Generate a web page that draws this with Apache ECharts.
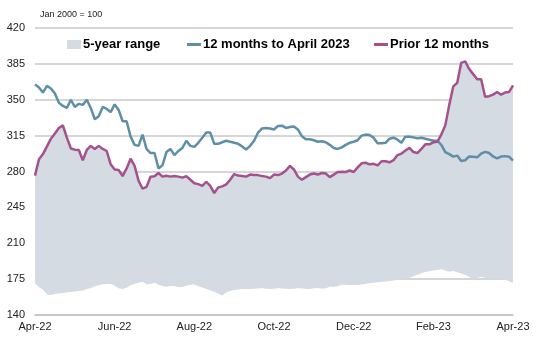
<!DOCTYPE html>
<html>
<head>
<meta charset="utf-8">
<script src="https://cdn.jsdelivr.net/npm/echarts@6/dist/echarts.min.js"></script>
<style>
  html, body { margin: 0; padding: 0; background: #fff; }
  #chart { width: 533px; height: 337px; }
</style>
</head>
<body>
<div id="chart"></div>
<script>
// Index values, Jan 2000 = 100, sampled roughly every three days from Apr-22 to Apr-23
const tickLabels = ['Apr-22', 'Jun-22', 'Aug-22', 'Oct-22', 'Dec-22', 'Feb-23', 'Apr-23'];

const current = [
  365, 362, 357, 363.5, 361, 356, 347, 344, 342, 350,
  343, 346, 345, 350, 342, 331, 334, 343, 341, 338,
  345.5, 340, 329, 329, 314, 306, 305, 316, 302, 298,
  298, 283, 286, 299, 302, 296, 300, 303, 310, 305,
  304, 308, 313, 318, 318, 307, 307, 308.5, 310, 309,
  308, 307, 304.5, 301.5, 305, 310, 318, 322, 322.5, 322,
  321, 324.5, 324.7, 322.5, 323.4, 324, 321, 314.5, 311.5, 311.5,
  310.5, 309, 309.5, 308.5, 306, 303, 302, 303.5, 306, 308,
  309, 310.5, 315, 316, 315.5, 313, 307.5, 307.5, 308, 312,
  313, 311, 308, 314, 314, 313.3, 312.3, 313, 312, 311,
  310, 310, 306, 299, 297, 294.5, 295.5, 290.3, 291, 294.7,
  294.3, 293.8, 297.5, 299.2, 298, 294.7, 292.8, 294.6, 295, 294.5,
  290.5
];

const prior = [
  276, 292, 297, 304.5, 312, 317, 322.5, 325, 313, 302.5,
  301.3, 301, 291, 301, 305, 302, 305, 302, 300, 287,
  282, 281.5, 275.5, 283, 292.5, 285.5, 271, 263.2, 265, 274.8,
  275.3, 278.5, 275, 275.8, 275, 275.5, 275, 274, 275.5, 272,
  268.5, 267.7, 266, 270, 266, 259, 264.5, 265.5, 267.5, 272,
  277.5, 276, 275.5, 275, 277, 276.5, 276.5, 275.5, 275, 273.5,
  277, 276.5, 278, 281, 285.5, 282, 275, 272, 274.5, 277,
  278, 277, 278.5, 278, 274.5, 277, 279.5, 279.8, 279.5, 281,
  279.5, 284, 288, 288.5, 287, 287.5, 286, 290, 290, 289,
  291, 296, 297.5, 300.5, 303, 299, 298, 302, 306.5, 306.5,
  308.5, 309, 316, 325, 345, 363, 366.5, 386, 387.5, 380,
  375, 370, 370, 353, 353.5, 355, 357.5, 355, 357, 357.5,
  364
];

// Five-year range: the prior twelve months set the upper edge throughout
const rangeHigh = prior.slice();
const rangeLow = [
  171, 167, 164.6, 160, 159.5, 160.5, 161, 161.5, 162, 162.5,
  163, 163.3, 164, 165.4, 166.4, 168, 169, 170, 170.3, 170.3,
  168.6, 166, 165.3, 166.5, 169, 170.5, 171.5, 172.5, 170, 170.2,
  171.5, 169.5, 168.2, 167.6, 168.2, 168.4, 167, 167.2, 168.6, 169.4,
  169.8, 168, 166.8, 165.4, 164.2, 162.5, 161, 159, 162, 163.5,
  164.5, 165, 165.3, 165.3, 165.3, 165.5, 165.8, 166, 165.6, 165.3,
  165.6, 166, 165.8, 165.5, 165.3, 165.6, 166, 165.8, 165.5, 165.3,
  166, 166.4, 165.6, 166, 167.5, 167.6, 168, 169.5, 169.6, 169.2,
  169.2, 169.3, 169.8, 170.4, 171, 171.5, 172, 172.4, 172.8, 173.2,
  173.7, 174.3, 174.8, 175.5, 176.3, 177.5, 179.2, 180.8, 182, 182.8,
  183.4, 184, 184.6, 183.5, 182.3, 182.9, 181.7, 180.5, 179.3, 177,
  175, 176.4, 177, 176.3, 175.2, 175.2, 175.2, 175.2, 174.6, 173,
  171.5
];

const yTicks = { min: 140, max: 420, step: 35 };

// Category axis: one slot per sample, month label every 20 samples
const categories = current.map((_, i) => (i % 20 === 0 ? tickLabels[i / 20] : ''));
const bandWidth = rangeHigh.map((v, i) => +(v - rangeLow[i]).toFixed(2));

const FONT = '"Liberation Sans", Arial, sans-serif';
const BLUE = '#5e8fa6';
const PURPLE = '#a4518e';
const GREY = '#d5dbe3';

const chart = echarts.init(document.getElementById('chart'), null, { renderer: 'canvas' });

const legendText = { fontFamily: FONT, fontSize: 13, fontWeight: 'bold', color: '#000' };

chart.setOption({
  animation: false,
  backgroundColor: '#fff',
  title: {
    text: 'Jan 2000 = 100',
    left: 35,
    top: 5,
    textStyle: { fontFamily: FONT, fontSize: 9, fontWeight: 'normal', color: '#222' }
  },
  legend: [
    {
      data: [{ name: '5-year range', icon: 'rect' }],
      left: 62, top: 33, itemWidth: 14, itemHeight: 9, itemGap: 0,
      textStyle: Object.assign({ padding: [0, 0, 0, -3] }, legendText)
    },
    {
      data: [{ name: '12 months to April 2023', icon: 'rect' }],
      left: 182, top: 33, itemWidth: 14, itemHeight: 3,
      textStyle: Object.assign({ padding: [0, 0, 0, -3] }, legendText)
    },
    {
      data: [{ name: 'Prior 12 months', icon: 'rect' }],
      left: 369, top: 33, itemWidth: 14, itemHeight: 3,
      textStyle: Object.assign({ padding: [0, 0, 0, -3] }, legendText)
    }
  ],
  grid: { left: 35, right: 20, top: 28, bottom: 22, containLabel: false },
  xAxis: {
    type: 'category',
    data: categories,
    boundaryGap: false,
    axisLine: { show: true, lineStyle: { color: '#c3c3c3', width: 1.5 } },
    axisTick: { show: false },
    axisLabel: {
      interval: 19,
      margin: 6,
      fontFamily: FONT, fontSize: 11, color: '#222',
      showMaxLabel: true
    },
    splitLine: { show: false }
  },
  yAxis: {
    type: 'value',
    min: yTicks.min,
    max: yTicks.max,
    interval: yTicks.step,
    axisLine: { show: false },
    axisTick: { show: false },
    axisLabel: { margin: 10, fontFamily: FONT, fontSize: 11, color: '#222' },
    splitLine: { show: true, lineStyle: { color: '#c8c8c8', width: 1.5 } }
  },
  series: [
    {
      name: 'rangeBase',
      type: 'line',
      stack: 'range',
      data: rangeLow,
      symbol: 'none',
      lineStyle: { opacity: 0 },
      silent: true
    },
    {
      name: '5-year range',
      type: 'line',
      stack: 'range',
      data: bandWidth,
      symbol: 'none',
      lineStyle: { opacity: 0 },
      itemStyle: { color: GREY },
      areaStyle: { color: GREY, opacity: 1 },
      silent: true
    },
    {
      name: '12 months to April 2023',
      type: 'line',
      data: current,
      symbol: 'none',
      itemStyle: { color: BLUE },
      lineStyle: { color: BLUE, width: 2.5 }
    },
    {
      name: 'Prior 12 months',
      type: 'line',
      data: prior,
      symbol: 'none',
      itemStyle: { color: PURPLE },
      lineStyle: { color: PURPLE, width: 2.5 }
    }
  ]
});
</script>
</body>
</html>
